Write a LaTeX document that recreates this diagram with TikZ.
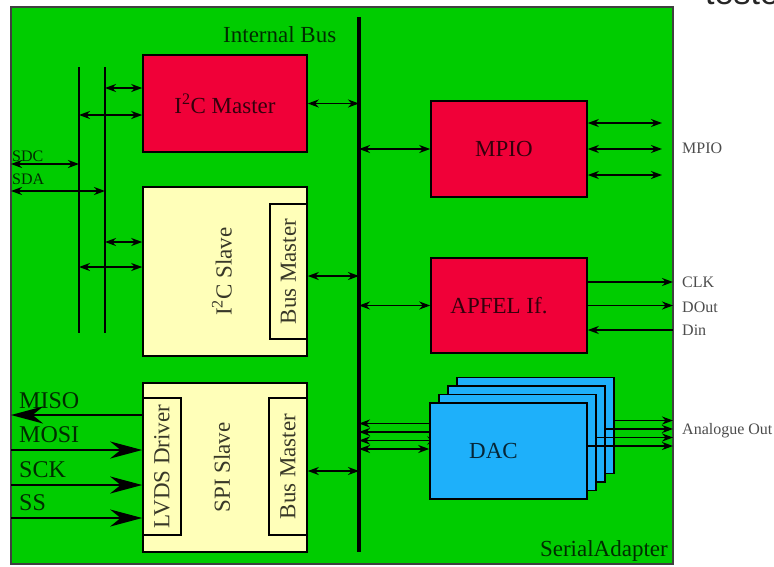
\documentclass[tikz,border=0pt]{standalone}
\usepackage{fontspec}
\setmainfont{Liberation Serif}
\newfontfamily\slidefont{Liberation Sans}
\usepackage{graphicx}
\usetikzlibrary{arrows.meta,calc}
\definecolor{boardgreen}{RGB}{0,204,0}
\definecolor{blockred}{RGB}{240,0,56}
\definecolor{slaveyellow}{RGB}{255,255,185}
\definecolor{dacblue}{RGB}{30,176,250}
\pgfdeclarelayer{board}
\pgfdeclarelayer{wires}
\pgfsetlayers{board,wires,main}

\tikzset{
  lbl/.style={font=\fontsize{23}{25}\selectfont, text opacity=0.78, inner sep=0pt},
  siglbl/.style={font=\fontsize{16}{18}\selectfont, text opacity=0.78, inner sep=0pt},
  spilbl/.style={font=\fontsize{24}{26}\selectfont, text opacity=0.78, inner sep=0pt},
  pinlbl/.style={font=\fontsize{16}{18}\selectfont, text opacity=0.7, inner sep=0pt},
  blk/.style={draw=black, line width=1.6pt, lbl},
  redblk/.style={blk, fill=blockred, minimum width=156pt, minimum height=96pt},
  yellowblk/.style={blk, fill=slaveyellow},
  dacblk/.style={blk, fill=dacblue, minimum width=157pt, minimum height=96pt},
  wire/.style={line width=1.6pt},
  biwire/.style={wire, <->},
  fatwire/.style={line width=2.6pt, -{Stealth[length=32pt,width=17pt]}},
}

\begin{document}
\begin{tikzpicture}[x=1pt,y=-1pt,>={Stealth[length=11pt,width=8pt]}]
\useasboundingbox (0,0) rectangle (774,566);
\begin{scope}
  \clip (0,0) rectangle (774,566);
  \node[anchor=base west, inner sep=0pt, font=\slidefont\fontsize{34}{36}\selectfont, text=black!85] (teste) at (705,4) {teste};
\end{scope}

% the board
\begin{pgfonlayer}{board}
  \node[draw=black!75, line width=1.2pt, fill=boardgreen, minimum width=662pt, minimum height=557pt, inner sep=0pt] (board) at (342,285.5) {};
\end{pgfonlayer}
\node[lbl, anchor=base west] (busname) at (223,42) {Internal Bus};
\node[lbl, anchor=base east] (boardname) at (668,556) {SerialAdapter};

% internal bus and i2c lines
\coordinate (bustop) at (359,17);
\coordinate (busbot) at (359,552);
\draw[line width=3.6pt] (bustop) -- (busbot);
\coordinate (scltop) at (79,67);
\coordinate (sclbot) at (79,333);
\coordinate (sdatop) at (105,67);
\coordinate (sdabot) at (105,333);
\draw[wire] (scltop) -- (sclbot);
\draw[wire] (sdatop) -- (sdabot);

% blocks
\node[redblk, minimum width=164pt, minimum height=97pt] (master) at (225,103.5) {I\textsuperscript{2}C Master};
\node[yellowblk, minimum width=164pt, minimum height=169pt] (i2cslave) at (225,271.5) {\rotatebox{90}{I\textsuperscript{2}C Slave}\hspace*{6pt}};
\node[yellowblk, minimum width=37pt, minimum height=135pt] (i2cbm) at (288.5,271.5) {\rotatebox{90}{Bus Master}};
\node[yellowblk, minimum width=164pt, minimum height=169pt] (spislave) at (225,467.5) {\rotatebox{90}{SPI Slave}\hspace*{6pt}};
\node[yellowblk, minimum width=38pt, minimum height=137pt] (lvds) at (162,466.5) {\rotatebox{90}{LVDS Driver}};
\node[yellowblk, minimum width=38pt, minimum height=137pt] (spibm) at (288,466.5) {\rotatebox{90}{Bus Master}};
\node[redblk] (mpio) at (509,149) {MPIO\hspace*{10pt}};
\node[redblk, minimum height=95pt, label={[name=apfeltxt, lbl, xshift=-10pt]center:{APFEL If.}}] (apfel) at (509,305.5) {};
\foreach \i/\x/\y in {4/535.5/425.5, 3/526.5/434, 2/517.5/442.5}
  \node[dacblk] (dac\i) at (\x,\y) {};
\node[dacblk, label={[name=dactxt, lbl, xshift=-15pt]center:DAC}] (dac1) at (508.5,451) {};

% i2c side
\coordinate (sdcpin) at (11,164);
\coordinate (sdapin) at (11,191);
\draw[biwire] (sdcpin) -- (sdcpin -| scltop);
\draw[biwire] (sdapin) -- (sdapin -| sdatop);
\node[siglbl, anchor=base west] (sdclbl) at (12,161) {SDC};
\node[siglbl, anchor=base west] (sdalbl) at (12,184) {SDA};
\coordinate (mport1) at ([yshift=15.5pt]master.west);
\coordinate (mport2) at ([yshift=-11.5pt]master.west);
\coordinate (sport1) at ([yshift=29.5pt]i2cslave.west);
\coordinate (sport2) at ([yshift=4.5pt]i2cslave.west);
\draw[biwire] (mport1 -| sdatop) -- (mport1);
\draw[biwire] (mport2 -| scltop) -- (mport2);
\draw[biwire] (sport1 -| sdatop) -- (sport1);
\draw[biwire] (sport2 -| scltop) -- (sport2);

% to the bus
\coordinate (i2cbmport) at ([yshift=-4.5pt]i2cbm.east);
\coordinate (spibmport) at ([yshift=-4.5pt]spibm.east);
\draw[biwire] (master.east) -- (master.east -| bustop);
\draw[biwire] (i2cbmport) -- (i2cbmport -| bustop);
\draw[biwire] (spibmport) -- (spibmport -| bustop);
\draw[biwire] (mpio.west -| bustop) -- (mpio.west);
\draw[biwire] (apfel.west -| bustop) -- (apfel.west);
\begin{pgfonlayer}{wires}
  \foreach \i in {1,...,4} {
    \coordinate (dacin\i) at ([yshift=2pt]dac\i.west);
    \draw[biwire] (dacin\i -| bustop) -- (dacin\i);
  }
\end{pgfonlayer}

% spi pins
\coordinate (spipin) at (11,466.5);
\coordinate (miso) at ([yshift=51.5pt]lvds.west);
\coordinate (mosi) at ([yshift=16.5pt]lvds.west);
\coordinate (sck) at ([yshift=-18.5pt]lvds.west);
\coordinate (ss) at ([yshift=-51.5pt]lvds.west);
\draw[fatwire] (miso) -- (miso -| spipin);
\draw[fatwire] (mosi -| spipin) -- (mosi);
\draw[fatwire] (sck -| spipin) -- (sck);
\draw[fatwire] (ss -| spipin) -- (ss);
\node[spilbl, anchor=base west] (misolbl) at (19,408) {MISO};
\node[spilbl, anchor=base west] (mosilbl) at (19,442) {MOSI};
\node[spilbl, anchor=base west] (scklbl) at (19,477) {SCK};
\node[spilbl, anchor=base west] (sslbl) at (19,510) {SS};

% right side pins
\coordinate (mpiopin) at (662,149);
\foreach \dy in {26,0,-26}
  \draw[biwire] ([yshift=\dy pt]mpio.east) -- ([yshift=\dy pt]mpiopin);
\node[pinlbl, anchor=base west] (mpiolbl) at (682,153) {MPIO};
\coordinate (apfelpin) at (673,305.5);
\coordinate (clk) at ([yshift=23.5pt]apfel.east);
\coordinate (din) at ([yshift=-24.5pt]apfel.east);
\draw[wire, ->] (clk) -- (clk -| apfelpin);
\draw[wire, ->] (apfel.east) -- (apfelpin);
\draw[wire, <-] (din) -- (din -| apfelpin);
\node[pinlbl, anchor=base west] (clklbl) at (682,287) {CLK};
\node[pinlbl, anchor=base west] (doutlbl) at (682,312) {DOut};
\node[pinlbl, anchor=base west] (dinlbl) at (682,335) {Din};
\coordinate (aoutpin) at (673,436);
\foreach \i in {1,...,4} {
  \coordinate (dacout\i) at ([yshift=5pt]dac\i.east);
  \draw[wire, ->] (dacout\i) -- (dacout\i -| aoutpin);
}
\node[pinlbl, anchor=base west] (aoutlbl) at (682,434) {Analogue Out};
\end{tikzpicture}
\end{document}
